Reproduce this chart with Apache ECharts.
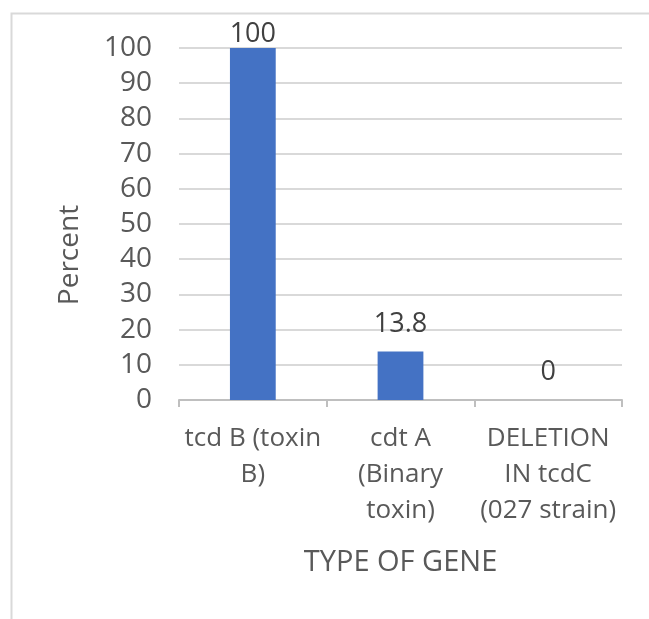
<!DOCTYPE html>
<html>
<head>
<meta charset="utf-8">
<script src="https://cdn.jsdelivr.net/npm/echarts@6/dist/echarts.min.js"></script>
<style>
  html, body { margin: 0; padding: 0; background: #ffffff; }
  #chart { width: 649px; height: 619px; }
</style>
</head>
<body>
<div id="chart"></div>
<script>
// Gene categories (line breaks as shown under the axis)
const categories = ['tcd B (toxin\nB)', 'cdt A\n(Binary\ntoxin)', 'DELETION\nIN tcdC\n(027 strain)'];
// Percent of isolates carrying each gene
const percentValues = [100, 13.8, 0];
// Value axis range
const yMin = 0;
const yMax = 100;
const yStep = 10;

const FONT = '"Open Sans", "Noto Sans", sans-serif';
const peak = Math.max(...percentValues);

const chart = echarts.init(document.getElementById('chart'), null, { renderer: 'canvas' });

chart.setOption({
  backgroundColor: '#ffffff',
  animation: false,
  textStyle: { fontFamily: FONT },
  graphic: [{
    type: 'rect',
    left: 9,
    top: 11,
    shape: { width: 700, height: 700 },
    style: { fill: 'none', stroke: '#d9d9d9', lineWidth: 2 },
    silent: true
  }],
  grid: { left: 179, right: 27, top: 48, bottom: 219, containLabel: false },
  xAxis: {
    type: 'category',
    data: categories,
    name: 'TYPE OF GENE',
    nameLocation: 'middle',
    nameGap: 148,
    nameTextStyle: { fontSize: 29, color: '#595959', fontFamily: FONT },
    axisLine: { show: true, lineStyle: { color: '#bfbfbf', width: 2 } },
    axisTick: { show: true, alignWithLabel: false, length: 7, lineStyle: { color: '#bfbfbf', width: 2 } },
    axisLabel: {
      color: '#595959',
      fontSize: 26,
      lineHeight: 36,
      margin: 21,
      fontFamily: FONT,
      interval: 0
    },
    splitLine: { show: false }
  },
  yAxis: {
    type: 'value',
    min: yMin,
    max: yMax,
    interval: yStep,
    name: 'Percent',
    nameLocation: 'middle',
    nameRotate: 90,
    nameGap: 95,
    nameTextStyle: { fontSize: 28, color: '#595959', fontFamily: FONT, padding: [0, 62, 0, 0] },
    axisLine: { show: false },
    axisTick: { show: false },
    axisLabel: { color: '#595959', fontSize: 28, margin: 27, fontFamily: FONT },
    splitLine: { show: true, lineStyle: { color: '#d9d9d9', width: 2 } }
  },
  series: [{
    type: 'bar',
    data: percentValues.map(v => ({
      value: v,
      label: { distance: v === peak ? 0 : 14 }
    })),
    barWidth: '31%',
    itemStyle: { color: '#4472c4' },
    label: {
      show: true,
      position: 'top',
      color: '#404040',
      fontSize: 27,
      fontFamily: FONT
    }
  }]
});
</script>
</body>
</html>
